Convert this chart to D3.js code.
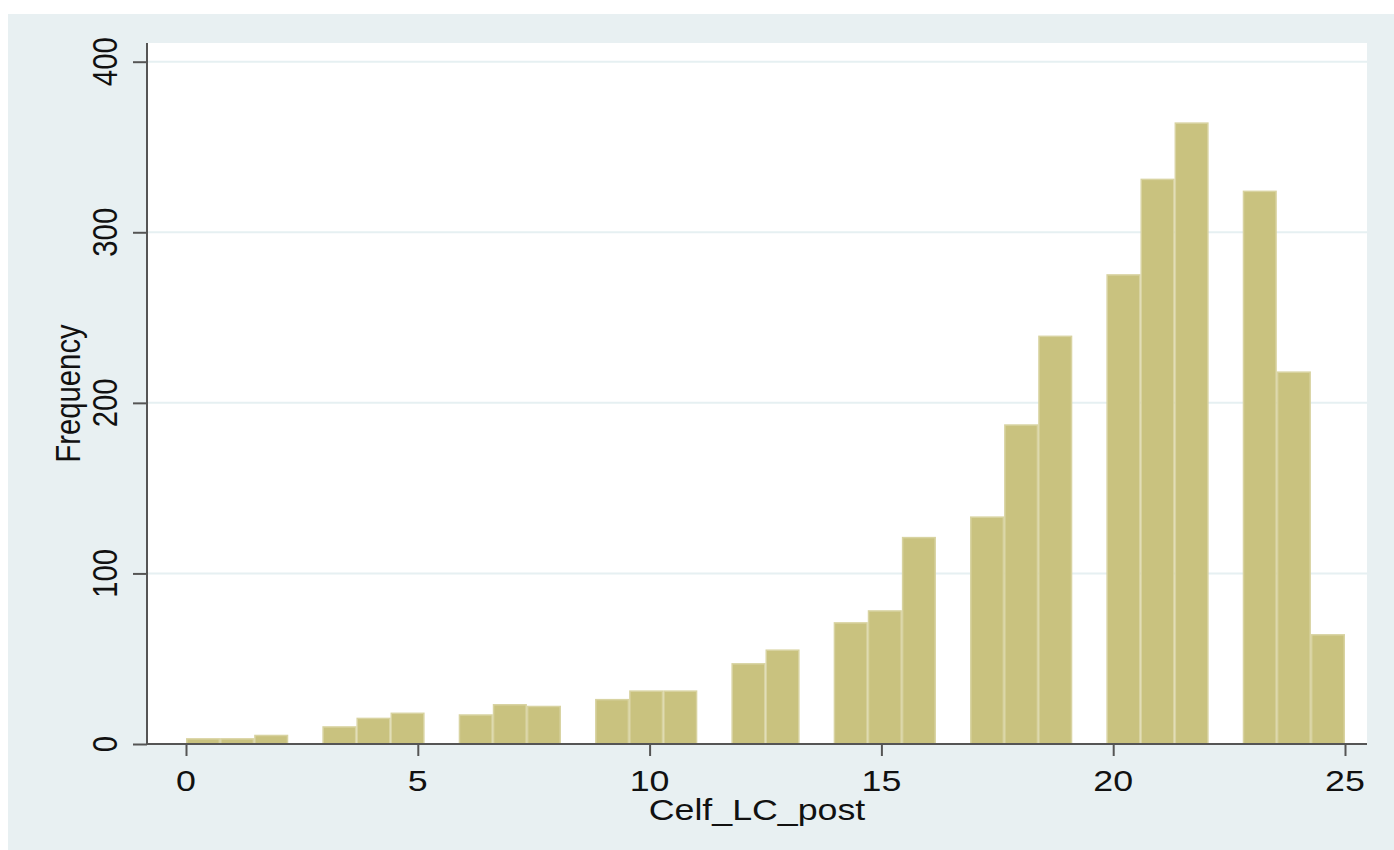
<!DOCTYPE html>
<html>
<head>
<meta charset="utf-8">
<script src="https://cdn.jsdelivr.net/npm/d3@7"></script>
<style>
  html, body { margin: 0; padding: 0; background: #ffffff; }
  svg { display: block; }
</style>
</head>
<body>
<svg id="svgArea" width="1394" height="850"></svg>
<script>
// Celf_LC_post scores and their frequencies
var scores = [0, 1, 2, 3, 4, 5, 6, 7, 8, 9, 10, 11, 12, 13, 14, 15, 16, 17, 18, 19, 20, 21, 22, 23, 24, 25];
var freqs = [3, 3, 5, 10, 15, 18, 17, 23, 22, 26, 31, 31, 47, 55, 71, 78, 121, 133, 187, 239, 275, 331, 364, 324, 218, 64];
var nBins = 34;
var xTicks = [0, 5, 10, 15, 20, 25];
var yTicks = [0, 100, 200, 300, 400];
var xTitle = "Celf_LC_post";
var yTitle = "Frequency";

var stretch = 1.22;   // the picture is wider than tall, text too
var fontSize = 29.3;

var svg = d3.select("#svgArea");

var plotLeft = 147, plotRight = 1367, plotTop = 43, plotBottom = 744;

var x = d3.scaleLinear().domain([0, 25]).range([186, 1345]);
var y = d3.scaleLinear().domain([0, 400]).range([744, 61.7]);

// bin the scores the way the histogram does
var binWidth = 25 / nBins;
var bins = d3.range(nBins).map(function (i) {
    return { x0: i * binWidth, x1: (i + 1) * binWidth, count: 0 };
});
scores.forEach(function (s, i) {
    var b = Math.min(Math.floor(s / binWidth + 1e-9), nBins - 1);
    bins[b].count += freqs[i];
});

// backgrounds
svg.append("rect")
    .attr("x", 8).attr("y", 14)
    .attr("width", 1394 - 8).attr("height", 850 - 14)
    .attr("fill", "#e8f0f2");

svg.append("rect")
    .attr("x", plotLeft).attr("y", plotTop)
    .attr("width", plotRight - plotLeft).attr("height", plotBottom - plotTop)
    .attr("fill", "#ffffff");

// grid lines
svg.append("g")
    .selectAll("line")
    .data(yTicks.filter(function (d) { return d > 0; }))
    .enter().append("line")
    .attr("x1", plotLeft).attr("x2", plotRight)
    .attr("y1", function (d) { return y(d); })
    .attr("y2", function (d) { return y(d); })
    .attr("stroke", "#e6f0f2")
    .attr("stroke-width", 2);

// bars
svg.append("g")
    .selectAll("rect")
    .data(bins.filter(function (b) { return b.count > 0; }))
    .enter().append("rect")
    .attr("x", function (b) { return x(b.x0) + 0.75; })
    .attr("width", function (b) { return x(b.x1) - x(b.x0) - 1.5; })
    .attr("y", function (b) { return y(b.count); })
    .attr("height", function (b) { return y(0) - y(b.count); })
    .attr("fill", "#c9c27f")
    .attr("stroke", "#d8d3a1")
    .attr("stroke-width", 1.5);

// axes
var xAxis = d3.axisBottom(x).tickValues(xTicks).tickSize(12).tickFormat("");
var yAxis = d3.axisLeft(y).tickValues(yTicks).tickSize(14).tickFormat("");

var gx = svg.append("g")
    .attr("transform", "translate(0," + plotBottom + ")")
    .call(xAxis);
gx.select(".domain").attr("d", "M" + plotLeft + ",0H" + plotRight);

var gy = svg.append("g")
    .attr("transform", "translate(" + plotLeft + ",0)")
    .call(yAxis);
gy.select(".domain").attr("d", "M0," + plotTop + "V" + plotBottom);

svg.selectAll(".domain, .tick line")
    .attr("stroke", "#555555")
    .attr("stroke-width", 2);

// tick labels
svg.append("g")
    .selectAll("text")
    .data(xTicks)
    .enter().append("text")
    .attr("transform", function (d) {
        return "translate(" + x(d) + ",790.5) scale(" + stretch + ",1)";
    })
    .attr("text-anchor", "middle")
    .attr("font-family", "Liberation Sans, Arial, sans-serif")
    .attr("font-size", fontSize)
    .attr("fill", "#111111")
    .text(function (d) { return d; });

svg.append("g")
    .selectAll("text")
    .data(yTicks)
    .enter().append("text")
    .attr("transform", function (d) {
        return "translate(117.3," + y(d) + ") scale(" + stretch + ",1) rotate(-90)";
    })
    .attr("text-anchor", "middle")
    .attr("font-family", "Liberation Sans, Arial, sans-serif")
    .attr("font-size", fontSize)
    .attr("fill", "#111111")
    .text(function (d) { return d; });

// axis titles
svg.append("text")
    .attr("transform", "translate(" + (plotLeft + plotRight) / 2 + ",819.5) scale(" + stretch + ",1)")
    .attr("text-anchor", "middle")
    .attr("font-family", "Liberation Sans, Arial, sans-serif")
    .attr("font-size", fontSize)
    .attr("fill", "#111111")
    .text(xTitle);

svg.append("text")
    .attr("transform", "translate(80," + (plotTop + plotBottom) / 2 + ") scale(" + stretch + ",1) rotate(-90)")
    .attr("text-anchor", "middle")
    .attr("font-family", "Liberation Sans, Arial, sans-serif")
    .attr("font-size", fontSize)
    .attr("fill", "#111111")
    .text(yTitle);
</script>
</body>
</html>
